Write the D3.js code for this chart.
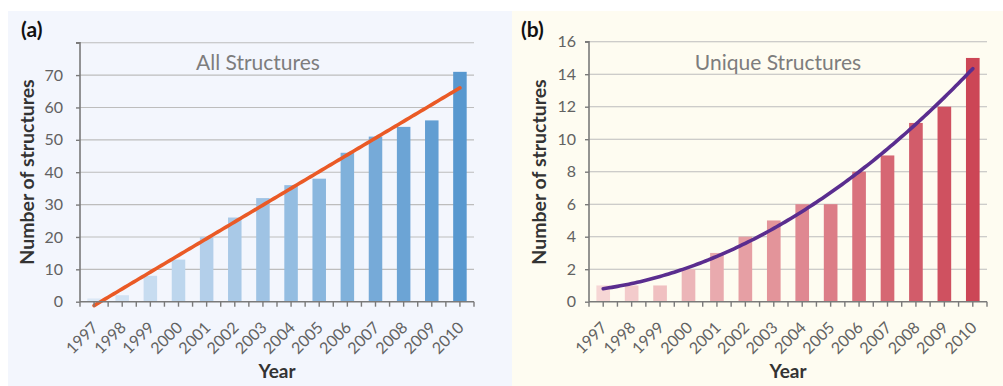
<!DOCTYPE html>
<html>
<head>
<meta charset="utf-8">
<script src="https://cdn.jsdelivr.net/npm/d3@7"></script>
<style>
  html, body { margin: 0; padding: 0; background: #ffffff; }
  svg { display: block; }
  text { font-family: Lato, "Open Sans", sans-serif; }
</style>
</head>
<body>
<svg id="chart" width="1003" height="386"></svg>
<script>
// Years shown on both panels
const years = ["1997","1998","1999","2000","2001","2002","2003","2004","2005","2006","2007","2008","2009","2010"];
// Structures deposited per year
const allStructures = [1, 2, 8, 13, 20, 26, 32, 36, 38, 46, 51, 54, 56, 71];
const uniqueStructures = [1, 1, 1, 2, 3, 4, 5, 6, 6, 8, 9, 11, 12, 15];
// Value-axis ticks
const ticksA = [0, 10, 20, 30, 40, 50, 60, 70, 80];
const tickLabelsA = ["0", "10", "20", "30", "40", "50", "60", "70", ""];
const ticksB = [0, 2, 4, 6, 8, 10, 12, 14, 16];
const tickLabelsB = ["0", "2", "4", "6", "8", "10", "12", "14", "16"];

const svg = d3.select("#chart");

// Least-squares polynomial fit (degree 1 or 2) over the year index
function polyFit(values, degree) {
  const n = degree + 1;
  const A = Array.from({length: n}, () => new Array(n).fill(0));
  const b = new Array(n).fill(0);
  values.forEach((y, x) => {
    for (let i = 0; i < n; i++) {
      b[i] += y * Math.pow(x, i);
      for (let j = 0; j < n; j++) A[i][j] += Math.pow(x, i + j);
    }
  });
  // Gaussian elimination
  for (let i = 0; i < n; i++) {
    for (let k = i + 1; k < n; k++) {
      const f = A[k][i] / A[i][i];
      for (let j = i; j < n; j++) A[k][j] -= f * A[i][j];
      b[k] -= f * b[i];
    }
  }
  const c = new Array(n).fill(0);
  for (let i = n - 1; i >= 0; i--) {
    let s = b[i];
    for (let j = i + 1; j < n; j++) s -= A[i][j] * c[j];
    c[i] = s / A[i][i];
  }
  return x => c.reduce((acc, ci, i) => acc + ci * Math.pow(x, i), 0);
}

function panel(cfg) {
  const g = svg.append("g");

  g.append("rect")
    .attr("x", cfg.bg[0]).attr("y", cfg.bg[1])
    .attr("width", cfg.bg[2]).attr("height", cfg.bg[3])
    .attr("fill", cfg.bgColor);

  const x = d3.scaleBand().domain(years)
    .range([cfg.left, cfg.right]).paddingInner(0.52).paddingOuter(0.26);
  const y = d3.scaleLinear().domain(cfg.domain).range([cfg.bottom, cfg.top]);
  const color = d3.scaleLinear().domain([0, years.length - 1])
    .range(cfg.barColors).interpolate(d3.interpolateRgb);

  // Horizontal gridlines
  g.append("g").selectAll("line").data(cfg.ticks.filter(t => t > 0)).join("line")
    .attr("x1", cfg.left).attr("x2", cfg.right)
    .attr("y1", d => y(d)).attr("y2", d => y(d))
    .attr("stroke", "#bdbdbd").attr("stroke-width", 1.1);

  // Title inside the plot
  g.append("text")
    .attr("x", cfg.titleX).attr("y", 70)
    .attr("text-anchor", "middle")
    .attr("font-size", 21).attr("fill", "#7d7d7d")
    .text(cfg.title);

  // Bars
  g.append("g").selectAll("rect").data(cfg.values).join("rect")
    .attr("x", (d, i) => x(years[i]))
    .attr("width", x.bandwidth())
    .attr("y", d => y(d))
    .attr("height", d => y(0) - y(d))
    .attr("fill", (d, i) => color(i));

  // Trend line
  const fit = polyFit(cfg.values, cfg.degree);
  const pts = d3.range(0, years.length - 1 + 1e-9, 0.1).map(t => [t, fit(t)]);
  const cx = t => cfg.left + x.step() * (x.paddingOuter() + t) + x.bandwidth() / 2;
  g.append("path")
    .datum(pts)
    .attr("d", d3.line().x(d => cx(d[0])).y(d => y(d[1])).curve(d3.curveLinear))
    .attr("fill", "none")
    .attr("stroke", cfg.lineColor)
    .attr("stroke-width", 3.6)
    .attr("stroke-linecap", "round");

  // Y axis
  const yAxis = d3.axisLeft(y).tickValues(cfg.ticks)
    .tickFormat((d, i) => cfg.tickLabels[i]).tickSize(4).tickPadding(cfg.yPad);
  const ya = g.append("g").attr("transform", `translate(${cfg.left},0)`).call(yAxis);
  ya.select(".domain").attr("stroke", "#7a7a7a").attr("stroke-width", 1.6)
    .attr("d", `M-4,${cfg.top}H0V${cfg.bottom}`);
  ya.selectAll(".tick line").attr("stroke", "#7a7a7a").attr("stroke-width", 1.4);
  ya.selectAll(".tick text").attr("font-size", 16).attr("fill", "#626262")
    .attr("font-family", "Lato, sans-serif");

  // X axis: ticks at band centres and band boundaries
  const xa = g.append("g").attr("transform", `translate(0,${cfg.bottom})`);
  xa.append("line").attr("x1", cfg.left).attr("x2", cfg.right)
    .attr("stroke", "#7a7a7a").attr("stroke-width", 1.6);
  const half = d3.range(0, years.length * 2 + 1).map(k => cfg.left + k * x.step() / 2);
  xa.selectAll("line.tk").data(half).join("line").attr("class", "tk")
    .attr("x1", d => d).attr("x2", d => d).attr("y1", 0).attr("y2", 5)
    .attr("stroke", "#7a7a7a").attr("stroke-width", 1.4);
  xa.selectAll("text").data(years).join("text")
    .attr("transform", d => `translate(${x(d) + x.bandwidth() / 2 + 1},${23}) rotate(-45)`)
    .attr("text-anchor", "end").attr("dy", "0.35em")
    .attr("font-size", 16).attr("fill", "#626262")
    .text(d => d);

  // Axis titles
  g.append("text")
    .attr("transform", `translate(${cfg.yLabelX},172) rotate(-90)`)
    .attr("text-anchor", "middle").attr("font-weight", 700)
    .attr("font-size", 19.5).attr("fill", "#333333")
    .text("Number of structures");
  g.append("text")
    .attr("x", (cfg.left + cfg.right) / 2).attr("y", 378)
    .attr("text-anchor", "middle").attr("font-weight", 700)
    .attr("font-size", 19).attr("fill", "#333333")
    .text("Year");

  // Panel letter
  g.append("text")
    .attr("x", cfg.letterX).attr("y", 37)
    .attr("font-weight", 700).attr("font-size", 21).attr("fill", "#111111")
    .text(cfg.letter);
}

panel({
  bg: [8, 11, 504, 375], bgColor: "#f3f6fd",
  left: 80, right: 474, top: 42.7, bottom: 301.7,
  domain: [0, 80], ticks: ticksA, tickLabels: tickLabelsA, yPad: 13,
  values: allStructures, barColors: ["#dbe8f6", "#5898cf"],
  degree: 1, lineColor: "#ea5a26",
  title: "All Structures", titleX: 258,
  yLabelX: 34, letter: "(a)", letterX: 21
});

panel({
  bg: [512, 11, 491, 375], bgColor: "#fefcf1",
  left: 589, right: 987, top: 41.7, bottom: 301.7,
  domain: [0, 16], ticks: ticksB, tickLabels: tickLabelsB, yPad: 9,
  values: uniqueStructures, barColors: ["#f6d6d5", "#cc4656"],
  degree: 2, lineColor: "#5a2d8f",
  title: "Unique Structures", titleX: 778,
  yLabelX: 546, letter: "(b)", letterX: 521
});
</script>
</body>
</html>
